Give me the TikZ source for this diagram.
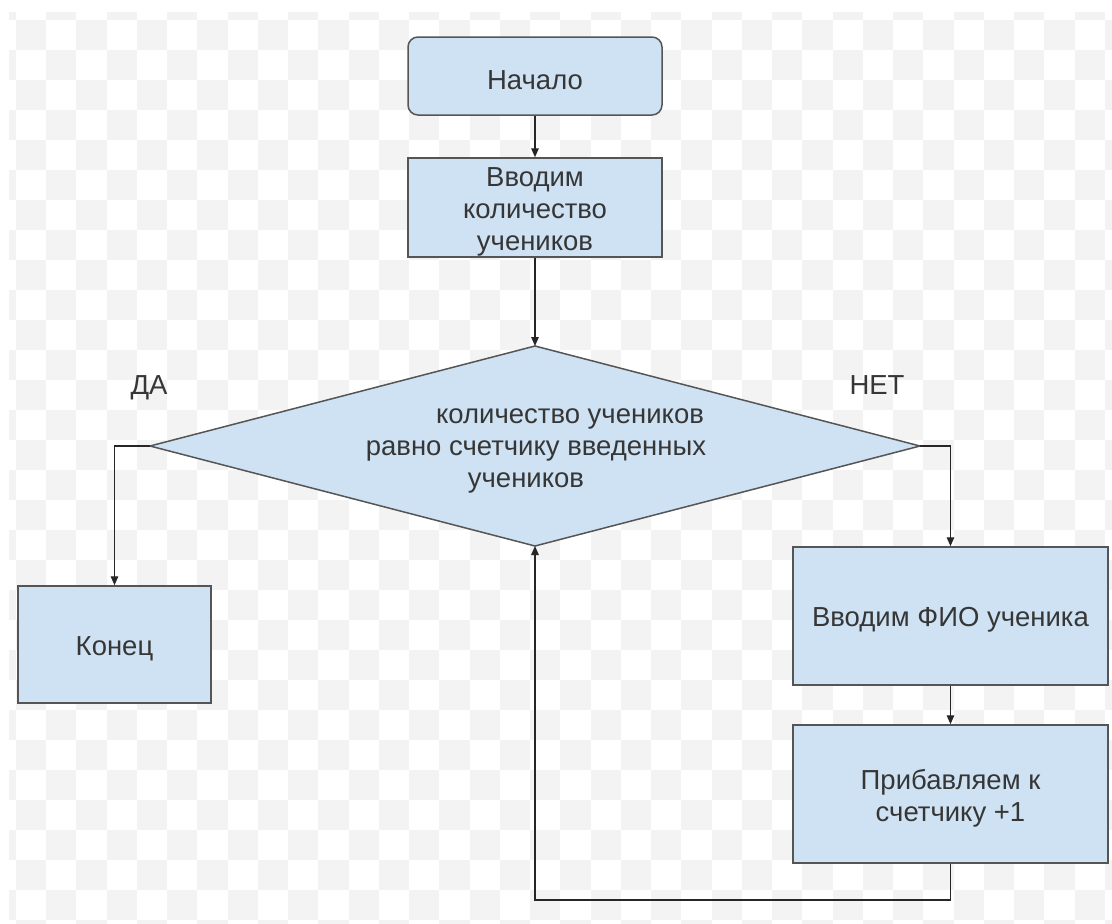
\documentclass[tikz,border=0pt]{standalone}
\usepackage{fontspec}
\setmainfont{Liberation Sans}
\usetikzlibrary{arrows.meta}
\definecolor{boxfill}{HTML}{CFE2F3}
\definecolor{boxline}{HTML}{555555}
\definecolor{txt}{HTML}{363636}
\definecolor{chk}{HTML}{F3F3F3}
\begin{document}
\begin{tikzpicture}[x=1pt,y=-1pt,
  font=\fontsize{27.5}{32}\selectfont,
  box/.style={draw=boxline, fill=boxfill, line width=1.5pt, inner sep=0pt},
  txtlbl/.style={label={[text=txt, align=center, inner sep=0pt, yshift=-4pt]center:{#1}}},
  conn/.style={draw=black!85, line width=1.4pt, -{Triangle[length=9pt,width=7.5pt]}},
  lbl/.style={text=txt, inner sep=0pt}]
\useasboundingbox (0,0) rectangle (1112,924);
\fill[white] (0,0) rectangle (1112,924);
% faint checkerboard background
\begin{scope}
  \clip (9,12) rectangle (1112,924);
  \foreach \i in {0,...,38}{
    \foreach \j in {0,...,32}{
      \pgfmathtruncatemacro{\parity}{mod(\i+\j,2)}
      \ifnum\parity=0
        \fill[chk] ({-14.5+30.25*\i},{-10+30*\j}) rectangle ++(30.25,30);
      \fi
    }
  }
\end{scope}

% nodes
\node[box, rounded corners=10pt, minimum width=254pt, minimum height=78pt, txtlbl={Начало}] (start) at (535,76) {};
\node[box, minimum width=254pt, minimum height=99pt, txtlbl={Вводим\\количество\\учеников}] (input) at (535,207.5) {};

\coordinate (dT) at (535,346);
\coordinate (dR) at (920,446);
\coordinate (dB) at (535,546);
\coordinate (dL) at (150,446);
\draw[draw=boxline, fill=boxfill, line width=1.5pt] (dT) -- (dR) -- (dB) -- (dL) -- cycle;
\node[lbl, align=center] (cond) at (536,451) {\hspace*{68pt}количество учеников\\равно счетчику введенных\\учеников\hspace*{20pt}};

\node[box, minimum width=193pt, minimum height=117pt, txtlbl={Конец}] (end) at (114.5,644.5) {};
\node[box, minimum width=315pt, minimum height=138pt, txtlbl={Вводим ФИО ученика}] (fio) at (950.5,616) {};
\node[box, minimum width=315pt, minimum height=138pt, txtlbl={Прибавляем к\\счетчику +1}] (add) at (950.5,794) {};

\node[lbl] (yes) at (149,388) {ДА};
\node[lbl] (no) at (877,385) {НЕТ};

\coordinate (lc) at (950.5,900);

% connectors
\draw[conn] (start.south) -- (input.north);
\draw[conn] (input.south) -- (dT);
\draw[conn] (dL) -| (end.north);
\draw[conn] (dR) -| (fio.north);
\draw[conn] (fio.south) -- (add.north);
\draw[conn] (add.south) -- (lc) -| (dB);
\end{tikzpicture}
\end{document}
